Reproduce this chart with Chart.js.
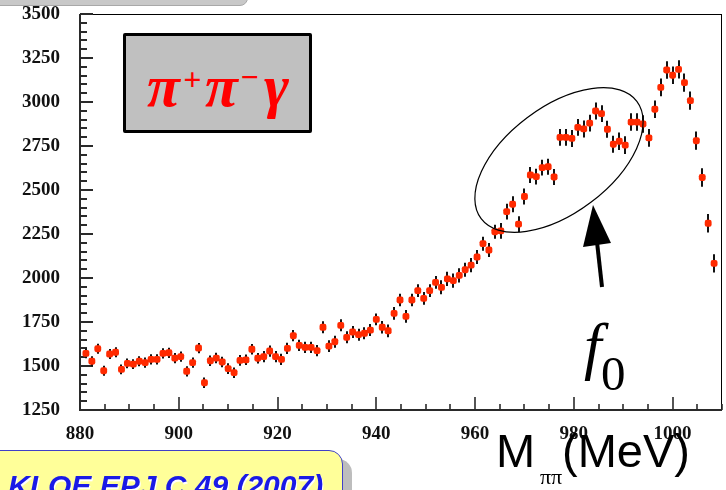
<!DOCTYPE html>
<html>
<head>
<meta charset="utf-8">
<title>pi+ pi- gamma mass spectrum</title>
<script src="https://cdn.jsdelivr.net/npm/chart.js@4.4.0/dist/chart.umd.min.js"></script>
<style>
  body { margin: 0; background: #fff; }
  #wrap { position: relative; width: 726px; height: 490px; overflow: hidden; background: #fff; }
  #chart { position: absolute; left: 0; top: 0; }
  .txt { position: absolute; white-space: nowrap; line-height: 1; margin: 0; }
  #topTab { position: absolute; left: -10px; top: -22px; width: 256px; height: 26px;
    background: #c8c8c8; border: 1px solid #a8a8a8; border-radius: 8px; }
  #chanBox { position: absolute; left: 123px; top: 33px; width: 189px; height: 100px;
    box-sizing: border-box; background: #c0c0c0; border: 3px solid #000; border-radius: 2px; }
  .chan { font-family: 'Liberation Serif', serif; font-style: italic; font-weight: bold; color: #ff0000; }
  #kloeBox { position: absolute; left: -12px; top: 450px; width: 355px; height: 60px;
    box-sizing: border-box; background: #ffff99; border: 1.5px solid #4040c8;
    border-radius: 0 14px 0 0; box-shadow: 9px 9px 0 #bdbdbd; }
  #kloe { font-family: 'Liberation Sans', sans-serif; font-style: italic; font-weight: bold;
    font-size: 30px; color: #1a1ae6; text-shadow: 1px 2px 0 #ffffff; }
  .axt { font-family: 'Liberation Sans', sans-serif; font-size: 47px; color: #000; }
</style>
</head>
<body>
<div id="wrap">
  <canvas id="chart" width="726" height="490"></canvas>

  <div id="topTab"></div>

  <div id="chanBox"></div>
  <span class="txt chan" style="left:147px; top:56px; font-size:60px;">π</span>
  <span class="txt chan" style="left:183px; top:63px; font-size:32px;">+</span>
  <span class="txt chan" style="left:205px; top:56px; font-size:60px;">π</span>
  <span class="txt chan" style="left:240px; top:61px; font-size:32px;">−</span>
  <span class="txt chan" style="left:264px; top:56px; font-size:60px;">γ</span>

  <span class="txt" style="left:584px; top:315px; font-family:'Liberation Serif', serif; font-style:italic; font-size:63px;">f</span>
  <span class="txt" style="left:601px; top:349px; font-family:'Liberation Serif', serif; font-size:49px;">0</span>

  <span class="txt axt" style="left:496px; top:427px;">M</span>
  <span class="txt" style="left:540px; top:466px; font-family:'Liberation Serif', serif; font-size:22px;">ππ</span>
  <span class="txt axt" style="left:562px; top:427px;">(MeV)</span>

  <div id="kloeBox"></div>
  <span id="kloe" class="txt" style="left:8px; top:471px;">KLOE EPJ C 49 (2007)</span>
</div>

<script>
'use strict';

//****************************************
//          DATA
// ****************************************

// bin centres, MeV
const masses = [
  881.2, 882.4, 883.6, 884.8, 886.0, 887.2, 888.4, 889.6, 890.8, 892.0,
  893.2, 894.4, 895.6, 896.8, 898.0, 899.2, 900.4, 901.6, 902.8, 904.0,
  905.2, 906.4, 907.6, 908.8, 910.0, 911.2, 912.4, 913.6, 914.8, 916.0,
  917.2, 918.4, 919.6, 920.8, 922.0, 923.2, 924.4, 925.6, 926.8, 928.0,
  929.2, 930.4, 931.6, 932.8, 934.0, 935.2, 936.4, 937.6, 938.8, 940.0,
  941.2, 942.4, 943.6, 944.8, 946.0, 947.2, 948.4, 949.6, 950.8, 952.0,
  953.2, 954.4, 955.6, 956.8, 958.0, 959.2, 960.4, 961.6, 962.8, 964.0,
  965.2, 966.4, 967.6, 968.8, 970.0, 971.2, 972.4, 973.6, 974.8, 976.0,
  977.2, 978.4, 979.6, 980.8, 982.0, 983.2, 984.4, 985.6, 986.8, 988.0,
  989.2, 990.4, 991.6, 992.8, 994.0, 995.2, 996.4, 997.6, 998.8, 1000.0,
  1001.2, 1002.4, 1003.6, 1004.8, 1006.0, 1007.2, 1008.4
];

// events per bin
const counts = [
  1572, 1527, 1598, 1473, 1568, 1578, 1481, 1515, 1511, 1527,
  1519, 1538, 1538, 1572, 1575, 1545, 1553, 1470, 1519, 1602,
  1405, 1530, 1545, 1523, 1485, 1462, 1532, 1535, 1595, 1544,
  1553, 1585, 1553, 1538, 1600, 1672, 1617, 1606, 1606, 1587,
  1720, 1613, 1638, 1731, 1663, 1693, 1678, 1686, 1704, 1765,
  1720, 1700, 1799, 1875, 1782, 1875, 1928, 1884, 1928, 1975,
  1947, 1995, 1985, 2015, 2047, 2073, 2119, 2195, 2159, 2263,
  2268, 2377, 2419, 2306, 2463, 2585, 2576, 2627, 2632, 2574,
  2799, 2799, 2793, 2856, 2847, 2880, 2949, 2934, 2845, 2760,
  2777, 2755, 2886, 2886, 2875, 2796, 2959, 3083, 3182, 3152,
  3185, 3110, 3008, 2780, 2571, 2311, 2083
];

// half length of the error bars
const errors = [
  28, 28, 28, 28, 28, 28, 28, 28, 28, 28,
  29, 29, 29, 29, 29, 29, 29, 29, 29, 29,
  30, 30, 30, 30, 30, 30, 30, 30, 30, 30,
  32, 32, 32, 32, 32, 32, 32, 32, 32, 32,
  34, 34, 34, 34, 34, 34, 34, 34, 34, 34,
  36, 36, 36, 36, 36, 36, 36, 36, 36, 36,
  40, 40, 40, 40, 40, 40, 40, 40, 40, 40,
  45, 45, 45, 45, 45, 45, 45, 45, 45, 45,
  48, 48, 48, 48, 48, 48, 48, 48, 48, 48,
  50, 50, 50, 50, 50, 50, 50, 50, 50, 50,
  52, 52, 52, 52, 52, 52, 52
];

const xTickLabels = [880, 900, 920, 940, 960, 980, 1000];
const yTickLabels = [1250, 1500, 1750, 2000, 2250, 2500, 2750, 3000, 3250, 3500];
const xRange = [880, 1010];
const yRange = [1250, 3500];
const xMinorStep = 5;
const yMinorStep = 50;

//****************************************
//            PLUGINS
//****************************************

// frame + inward ticks, ROOT style
const frameTicks = {
  id: 'frameTicks',
  beforeDatasetsDraw(chart) {
    const { ctx, chartArea: a, scales: { x, y } } = chart;
    ctx.save();
    ctx.strokeStyle = '#000';
    ctx.lineWidth = 1;
    ctx.strokeRect(a.left, a.top + 0.5, a.right - a.left - 0.5, a.bottom - a.top);

    ctx.strokeStyle = '#2a2a2a';
    ctx.lineWidth = 2;
    ctx.beginPath();
    ctx.moveTo(a.left, a.top);
    ctx.lineTo(a.left, a.bottom);
    ctx.lineTo(a.right, a.bottom);
    ctx.stroke();

    // y ticks
    for (let v = yRange[0]; v <= yRange[1]; v += yMinorStep) {
      const py = Math.round(y.getPixelForValue(v));
      const len = yTickLabels.includes(v) ? 13 : 7;
      ctx.beginPath();
      ctx.moveTo(a.left, py);
      ctx.lineTo(a.left + len, py);
      ctx.stroke();
    }
    // x ticks
    ctx.lineWidth = 1.6;
    for (let v = xRange[0]; v <= xRange[1]; v += xMinorStep) {
      const px = Math.round(x.getPixelForValue(v));
      const len = xTickLabels.includes(v) ? 13 : 6;
      ctx.beginPath();
      ctx.moveTo(px, a.bottom);
      ctx.lineTo(px, a.bottom - len);
      ctx.stroke();
    }
    ctx.restore();
  }
};

const errorBars = {
  id: 'errorBars',
  beforeDatasetsDraw(chart) {
    const { ctx, scales: { x, y } } = chart;
    ctx.save();
    ctx.strokeStyle = '#111';
    ctx.lineWidth = 2;
    for (let i = 0; i < masses.length; i++) {
      const px = Math.round(x.getPixelForValue(masses[i]));
      ctx.beginPath();
      ctx.moveTo(px, y.getPixelForValue(counts[i] - errors[i]));
      ctx.lineTo(px, y.getPixelForValue(counts[i] + errors[i]));
      ctx.stroke();
    }
    ctx.restore();
  }
};

// f0 ellipse and arrow
const sketch = {
  id: 'sketch',
  afterDraw(chart) {
    const ctx = chart.ctx;
    ctx.save();
    ctx.strokeStyle = '#000';
    ctx.lineWidth = 1.2;
    ctx.beginPath();
    ctx.ellipse(559, 160, 97.5, 53, -37 * Math.PI / 180, 0, Math.PI * 2);
    ctx.stroke();

    ctx.lineWidth = 4;
    ctx.beginPath();
    ctx.moveTo(602, 287);
    ctx.lineTo(597, 242);
    ctx.stroke();
    ctx.fillStyle = '#000';
    ctx.beginPath();
    ctx.moveTo(593, 205);
    ctx.lineTo(583, 247);
    ctx.lineTo(611, 243);
    ctx.closePath();
    ctx.fill();
    ctx.restore();
  }
};

//****************************************
//            CHART
//****************************************

const tickFont = { family: 'Liberation Serif', size: 19, weight: 'bold' };

const points = masses.map((m, i) => ({ x: m, y: counts[i] }));

new Chart(document.getElementById('chart'), {
  type: 'scatter',
  data: {
    datasets: [{
      data: points,
      pointStyle: 'rectRounded',
      pointRadius: 4,
      backgroundColor: '#ff2a00',
      borderColor: '#ff2a00',
      borderWidth: 0
    }]
  },
  options: {
    responsive: false,
    animation: false,
    devicePixelRatio: 1,
    layout: { padding: { top: 14, right: 2, left: 0, bottom: 0 } },
    plugins: { legend: { display: false }, tooltip: { enabled: false } },
    scales: {
      x: {
        type: 'linear',
        min: xRange[0],
        max: xRange[1],
        afterBuildTicks: (s) => { s.ticks = xTickLabels.map(v => ({ value: v })); },
        afterFit: (s) => { s.height = 80; s.paddingLeft = 0; s.paddingRight = 0; },
        grid: { display: false, drawTicks: false },
        border: { display: false },
        ticks: { autoSkip: false, maxRotation: 0, padding: 13, color: '#111', font: tickFont,
          callback: (v) => String(v) }
      },
      y: {
        type: 'linear',
        min: yRange[0],
        max: yRange[1],
        afterBuildTicks: (s) => { s.ticks = yTickLabels.map(v => ({ value: v })); },
        afterFit: (s) => { s.width = 80; s.paddingTop = 0; s.paddingBottom = 0; },
        grid: { display: false, drawTicks: false },
        border: { display: false },
        ticks: { autoSkip: false, padding: 20, color: '#111', font: tickFont,
          callback: (v) => String(v) }
      }
    }
  },
  plugins: [frameTicks, errorBars, sketch]
});
</script>
</body>
</html>
